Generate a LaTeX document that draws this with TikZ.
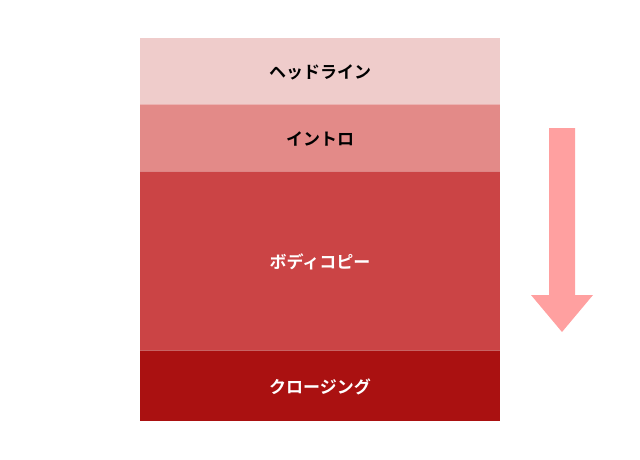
\documentclass[tikz,border=0pt]{standalone}
\usepackage{fontspec}
\newfontfamily\jp{Noto Sans CJK JP}[BoldFont={* Bold}]
\begin{document}
\begin{tikzpicture}[x=1pt,y=-1pt,
  blk/.style={minimum width=360pt,inner sep=0pt,outer sep=0pt,anchor=north west,
    font=\jp\bfseries\fontsize{17}{18}\selectfont},
  lbl/.style={font=\jp\bfseries\fontsize{17}{18}\selectfont,inner sep=0pt,yshift=-1.5pt},
  sep/.style={draw=white,opacity=0.35,line width=0.8pt}]
\useasboundingbox (0,0) rectangle (640,460);
\definecolor{cA}{HTML}{EFCCCB}
\definecolor{cB}{HTML}{E38A88}
\definecolor{cC}{HTML}{CB4445}
\definecolor{cD}{HTML}{AA1111}
\definecolor{cArr}{HTML}{FFA0A0}
\node[blk,fill=cA,minimum height=66pt] (h) at (140,38) {};
\node[blk,fill=cB,minimum height=67pt] (i) at (140,104) {};
\node[blk,fill=cC,minimum height=179pt] (b) at (140,171) {};
\node[blk,fill=cD,minimum height=71pt] (c) at (140,350) {};
\node[lbl,text=black] (ht) at (h.center) {ヘッドライン};
\node[lbl,text=black] (it) at (i.center) {イントロ};
\node[lbl,text=white] (bt) at (b.center) {ボディコピー};
\node[lbl,text=white] (ct) at (c.center) {クロージング};
\draw[sep] (h.south west) -- (h.south east);
\draw[sep] (i.south west) -- (i.south east);
\draw[sep] (b.south west) -- (b.south east);
\fill[cArr] (549,128) -- (575,128) -- (575,295) -- (593,295) -- (562,332) -- (531,295) -- (549,295) -- cycle;
\end{tikzpicture}
\end{document}
